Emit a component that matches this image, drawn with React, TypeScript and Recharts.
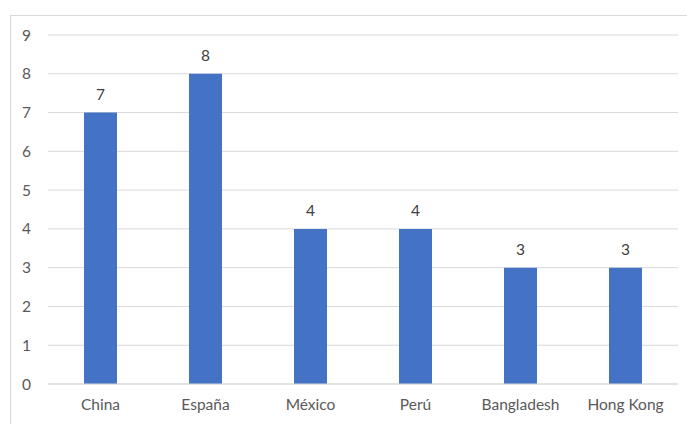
import { Bar, BarChart, CartesianGrid, LabelList, XAxis, YAxis } from "recharts";

const countries = ["China", "España", "México", "Perú", "Bangladesh", "Hong Kong"];
const counts = [7, 8, 4, 4, 3, 3];
const yTicks = [0, 1, 2, 3, 4, 5, 6, 7, 8, 9];

const data = countries.map((name, i) => ({ name, value: counts[i] }));

const FONT = "Lato, 'Open Sans', sans-serif";

export default function App() {
  return (
    <div style={{ position: "absolute", left: 0, top: 0, width: 687, height: 424, background: "#fff" }}>
      <div
        style={{
          position: "absolute",
          left: 10,
          top: 15,
          right: 0,
          bottom: 0,
          borderLeft: "1px solid #d9d9d9",
          borderTop: "1px solid #d9d9d9",
        }}
      />
      <BarChart
        width={687}
        height={424}
        data={data}
        margin={{ top: 35, right: 9, left: 0, bottom: 10 }}
        style={{ position: "absolute", left: 0, top: 0, fontFamily: FONT }}
      >
        <CartesianGrid vertical={false} stroke="#d9d9d9" strokeWidth={1} />
        <XAxis
          dataKey="name"
          height={30}
          axisLine={{ stroke: "#d9d9d9" }}
          tickLine={false}
          tickSize={0}
          tickMargin={15}
          tick={{ fontSize: 15.5, fill: "#595959", fontFamily: FONT }}
          interval={0}
        />
        <YAxis
          width={48}
          domain={[0, 9]}
          ticks={yTicks}
          axisLine={false}
          tickLine={false}
          tickSize={0}
          tickMargin={17}
          tick={{ fontSize: 15.5, fill: "#595959", fontFamily: FONT }}
        />
        <Bar dataKey="value" fill="#4472c4" barSize={33} isAnimationActive={false}>
          <LabelList dataKey="value" position="top" offset={13} fill="#404040" fontSize={15.5} fontFamily={FONT} />
        </Bar>
      </BarChart>
    </div>
  );
}
